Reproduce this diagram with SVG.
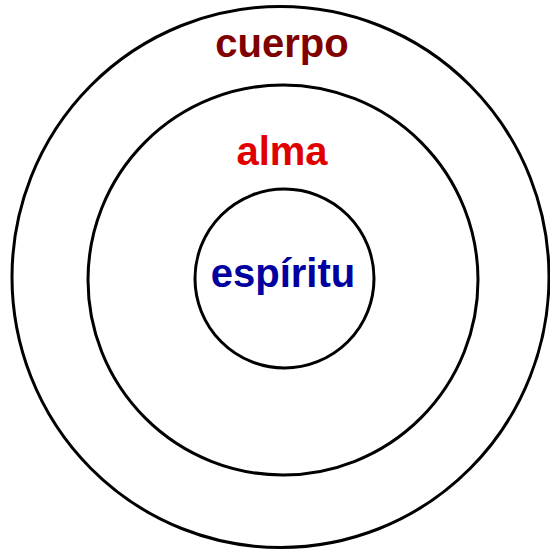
<svg xmlns="http://www.w3.org/2000/svg" width="550" height="550" viewBox="0 0 550 550">
<style>
.ring{fill:none;stroke:#000;stroke-width:3}
.lbl{font-family:"Liberation Sans",Arial,sans-serif;font-weight:bold;font-size:40px;text-anchor:middle}
</style>
<rect width="550" height="550" fill="#fff"/>
<g id="cuerpo">
<ellipse class="ring" cx="280.5" cy="277" rx="268.5" ry="270.5"/>
<text class="lbl" x="282" y="57" fill="#800000">cuerpo</text>
</g>
<g id="alma">
<circle class="ring" cx="283" cy="280" r="195"/>
<text class="lbl" x="282" y="165" fill="#e00000">alma</text>
</g>
<g id="espiritu">
<circle class="ring" cx="284.5" cy="278.5" r="89.5"/>
<text class="lbl" x="283" y="287" fill="#0000a0">espíritu</text>
</g>
<g id="connectors"/>
</svg>
